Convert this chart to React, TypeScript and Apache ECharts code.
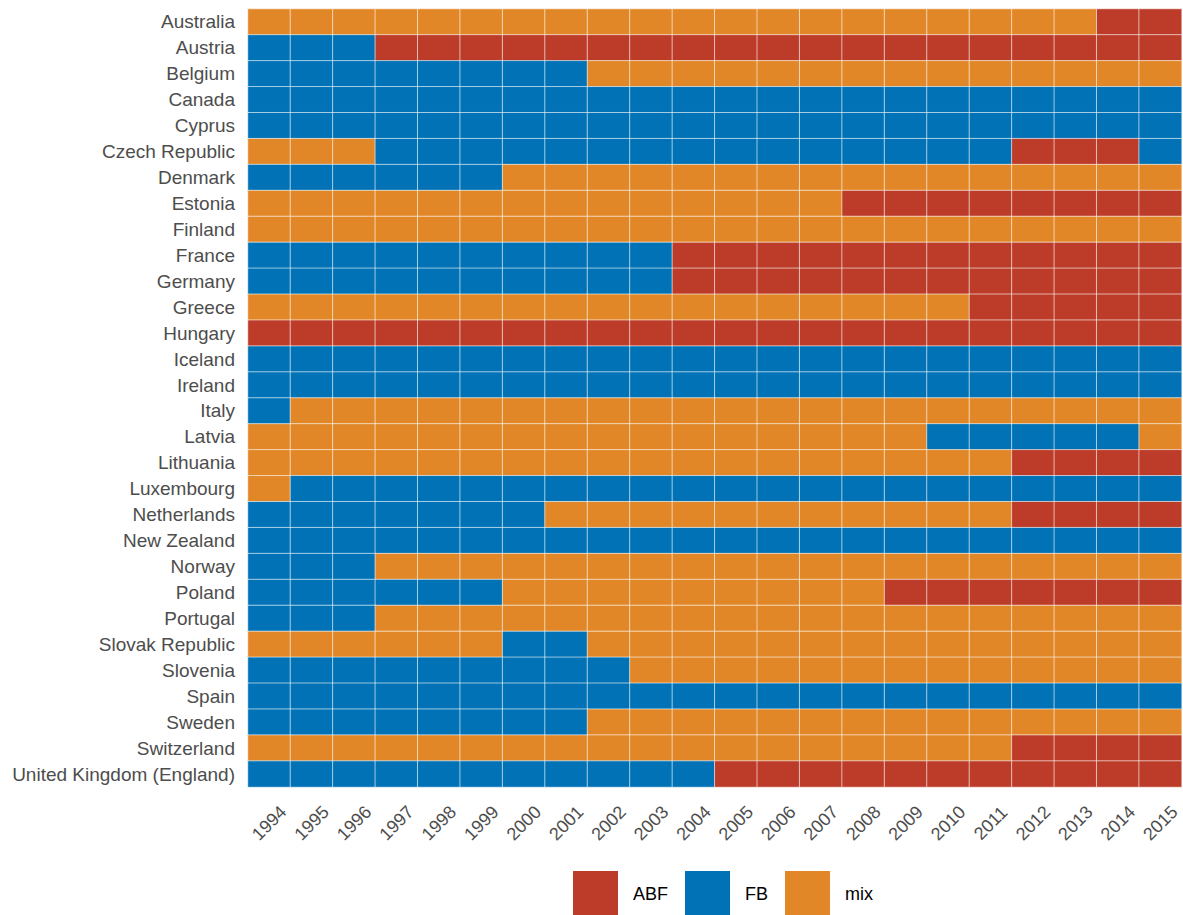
import { useEffect, useRef } from 'react';
import * as echarts from 'echarts';

const years = [
  '1994', '1995', '1996', '1997', '1998', '1999', '2000', '2001', '2002', '2003', '2004',
  '2005', '2006', '2007', '2008', '2009', '2010', '2011', '2012', '2013', '2014', '2015',
];

const countries = [
  'Australia', 'Austria', 'Belgium', 'Canada', 'Cyprus', 'Czech Republic', 'Denmark',
  'Estonia', 'Finland', 'France', 'Germany', 'Greece', 'Hungary', 'Iceland', 'Ireland',
  'Italy', 'Latvia', 'Lithuania', 'Luxembourg', 'Netherlands', 'New Zealand', 'Norway',
  'Poland', 'Portugal', 'Slovak Republic', 'Slovenia', 'Spain', 'Sweden', 'Switzerland',
  'United Kingdom (England)',
];

// one letter per year, 1994..2015: A = ABF, F = FB, M = mix
const regimes = [
  'MMMMMMMMMMMMMMMMMMMMAA', // Australia
  'FFFAAAAAAAAAAAAAAAAAAA', // Austria
  'FFFFFFFFMMMMMMMMMMMMMM', // Belgium
  'FFFFFFFFFFFFFFFFFFFFFF', // Canada
  'FFFFFFFFFFFFFFFFFFFFFF', // Cyprus
  'MMMFFFFFFFFFFFFFFFAAAF', // Czech Republic
  'FFFFFFMMMMMMMMMMMMMMMM', // Denmark
  'MMMMMMMMMMMMMMAAAAAAAA', // Estonia
  'MMMMMMMMMMMMMMMMMMMMMM', // Finland
  'FFFFFFFFFFAAAAAAAAAAAA', // France
  'FFFFFFFFFFAAAAAAAAAAAA', // Germany
  'MMMMMMMMMMMMMMMMMAAAAA', // Greece
  'AAAAAAAAAAAAAAAAAAAAAA', // Hungary
  'FFFFFFFFFFFFFFFFFFFFFF', // Iceland
  'FFFFFFFFFFFFFFFFFFFFFF', // Ireland
  'FMMMMMMMMMMMMMMMMMMMMM', // Italy
  'MMMMMMMMMMMMMMMMFFFFFM', // Latvia
  'MMMMMMMMMMMMMMMMMMAAAA', // Lithuania
  'MFFFFFFFFFFFFFFFFFFFFF', // Luxembourg
  'FFFFFFFMMMMMMMMMMMAAAA', // Netherlands
  'FFFFFFFFFFFFFFFFFFFFFF', // New Zealand
  'FFFMMMMMMMMMMMMMMMMMMM', // Norway
  'FFFFFFMMMMMMMMMAAAAAAA', // Poland
  'FFFMMMMMMMMMMMMMMMMMMM', // Portugal
  'MMMMMMFFMMMMMMMMMMMMMM', // Slovak Republic
  'FFFFFFFFFMMMMMMMMMMMMM', // Slovenia
  'FFFFFFFFFFFFFFFFFFFFFF', // Spain
  'FFFFFFFFMMMMMMMMMMMMMM', // Sweden
  'MMMMMMMMMMMMMMMMMMAAAA', // Switzerland
  'FFFFFFFFFFFAAAAAAAAAAA', // United Kingdom (England)
];

const categories = [
  { code: 'A', name: 'ABF', color: '#BC3C29' },
  { code: 'F', name: 'FB', color: '#0072B5' },
  { code: 'M', name: 'mix', color: '#E18727' },
];

const font = "'Liberation Sans', Arial, sans-serif";

export default function App() {
  const ref = useRef<HTMLDivElement | null>(null);

  useEffect(() => {
    if (!ref.current) return;
    const chart = echarts.init(ref.current, undefined, { renderer: 'svg' });

    const codeIndex = new Map(categories.map((c, i) => [c.code, i]));
    const cells = regimes.flatMap((row, yi) =>
      row.split('').map((code, xi) => [xi, yi, codeIndex.get(code)]),
    );

    chart.setOption({
      animation: false,
      backgroundColor: '#ffffff',
      textStyle: { fontFamily: font },
      grid: { left: 248, right: 0, top: 9, bottom: 128 },
      xAxis: {
        type: 'category',
        data: years,
        axisLine: { show: false },
        axisTick: { show: false },
        splitLine: { show: false },
        axisLabel: {
          interval: 0,
          rotate: 45,
          align: 'center',
          verticalAlign: 'middle',
          margin: 36,
          fontSize: 18,
          color: '#4D4D4D',
          fontFamily: font,
        },
      },
      yAxis: {
        type: 'category',
        data: countries,
        inverse: true,
        axisLine: { show: false },
        axisTick: { show: false },
        splitLine: { show: false },
        axisLabel: {
          interval: 0,
          margin: 13,
          fontSize: 19,
          color: '#4D4D4D',
          fontFamily: font,
        },
      },
      visualMap: {
        type: 'piecewise',
        orient: 'horizontal',
        left: 573,
        top: 871,
        padding: 0,
        itemSymbol: 'rect',
        itemWidth: 45,
        itemHeight: 45,
        itemGap: 17,
        textGap: 15,
        hoverLink: false,
        selectedMode: false,
        dimension: 2,
        pieces: categories.map((c, i) => ({ value: i, label: c.name, color: c.color })),
        textStyle: { fontSize: 18, color: '#000000', fontFamily: font },
      },
      series: [
        {
          type: 'heatmap',
          data: cells,
          itemStyle: {
            borderColor: 'rgba(255,255,255,0.6)',
            borderWidth: 1,
          },
          emphasis: { disabled: true },
        },
      ],
    });

    return () => chart.dispose();
  }, []);

  return (
    <div
      ref={ref}
      style={{ position: 'fixed', left: 0, top: 0, width: 1183, height: 915, background: '#fff' }}
    />
  );
}
